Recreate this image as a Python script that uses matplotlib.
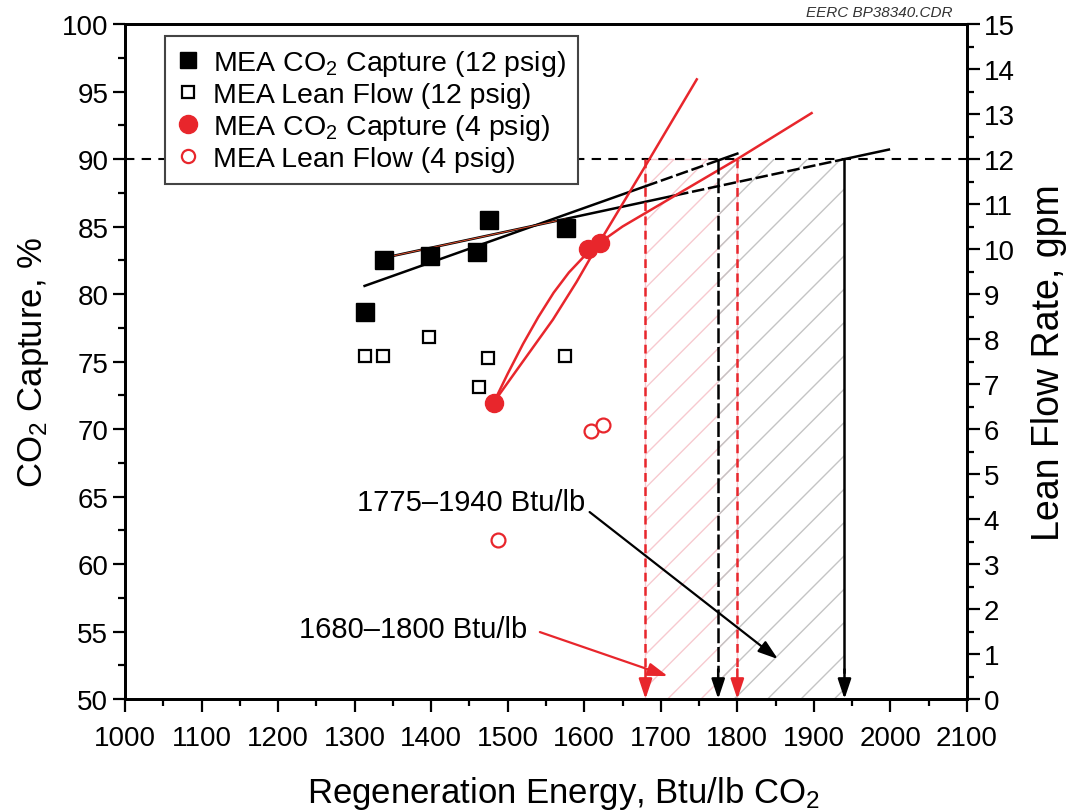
import matplotlib
matplotlib.use('Agg')
import matplotlib.pyplot as plt
from matplotlib.lines import Line2D
from matplotlib.patches import Rectangle
from matplotlib.ticker import MultipleLocator
import numpy as np

plt.rcParams['font.family'] = ['Liberation Sans', 'DejaVu Sans']
plt.rcParams['mathtext.fontset'] = 'custom'
plt.rcParams['mathtext.rm'] = 'Liberation Sans'
plt.rcParams['mathtext.default'] = 'regular'
plt.rcParams['hatch.linewidth'] = 1.0

# values
cap12_energy = [1313, 1338, 1398, 1460, 1476, 1576]
cap12_pct = [78.7, 82.5, 82.8, 83.1, 85.5, 84.9]
flow12_energy = [1313, 1337, 1397, 1462, 1474, 1575]
flow12_gpm = [7.62, 7.62, 8.04, 6.93, 7.58, 7.62]
cap4_energy = [1482, 1605, 1620]
cap4_pct = [71.9, 83.3, 83.8]
flow4_energy = [1487, 1609, 1624]
flow4_gpm = [3.53, 5.96, 6.09]

# trend lines (12 psig, straight)
fit_a_energy = [1313, 1800]
fit_a_pct = [80.6, 90.4]
fit_b_energy = [1340, 1998]
fit_b_pct = [82.7, 90.7]

# trend curves (4 psig)
curve_q_energy = [1482, 1516, 1559, 1590, 1620, 1680, 1747]
curve_q_pct = [72.0, 74.7, 78.1, 80.9, 83.85, 89.5, 95.9]
curve_p_energy = [1482, 1500, 1520, 1540, 1560, 1580, 1600, 1620, 1650, 1800, 1897]
curve_p_pct = [72.0, 74.1, 76.3, 78.3, 80.1, 81.6, 82.8, 83.8, 85.0, 90.0, 93.4]

target_pct = 90
range_4psig = [1680, 1800]
range_12psig = [1775, 1940]

RED = '#e8262c'
PINK = '#f7c9cf'
GREY = '#c4c4c4'

fig = plt.figure(figsize=(10.75, 8.12), dpi=100)
ax = fig.add_axes([0.1163, 0.1379, 0.7832, 0.8313])
ax2 = ax.twinx()

ax.set_xlim(1000, 2100)
ax.set_ylim(50, 100)
ax2.set_ylim(0, 15)

# hatched ranges
ax.add_patch(Rectangle((range_4psig[0], 50), range_4psig[1] - range_4psig[0], target_pct - 50,
                       facecolor='none', edgecolor=PINK, hatch='/', lw=1.0, zorder=1))
ax.add_patch(Rectangle((range_12psig[0], 50), range_12psig[1] - range_12psig[0], target_pct - 50,
                       facecolor='none', edgecolor=GREY, hatch='/', lw=0, zorder=1))

ax.axhline(target_pct, color='black', lw=1.5, ls='--', dashes=(4.5, 3.5), zorder=2)


def seg(xs, ys, x0, x1):
    xx = np.array([x0, x1])
    return xx, np.interp(xx, xs, ys)


# straight fits: solid outside the hatched ranges, broken inside
xx, yy = seg(fit_a_energy, fit_a_pct, 1313, 1680)
ax.plot(xx, yy, color='black', lw=1.8, zorder=3)
xx, yy = seg(fit_a_energy, fit_a_pct, 1680, 1775)
ax.plot(xx, yy, color='black', lw=1.8, ls='--', dashes=(5, 1.5), zorder=3)
xx, yy = seg(fit_a_energy, fit_a_pct, 1775, 1800)
ax.plot(xx, yy, color='black', lw=1.8, zorder=3)

xx, yy = seg(fit_b_energy, fit_b_pct, 1340, 1720)
ax.plot(xx, yy, color='black', lw=1.8, zorder=3)
xx, yy = seg(fit_b_energy, fit_b_pct, 1720, 1940)
ax.plot(xx, yy, color='black', lw=1.8, ls='--', dashes=(5, 1.5), zorder=3)
xx, yy = seg(fit_b_energy, fit_b_pct, 1940, 1998)
ax.plot(xx, yy, color='black', lw=1.8, zorder=3)
xx, yy = seg(fit_b_energy, fit_b_pct, 1340, 1575)
ax.plot(xx, yy, color='#e05030', lw=0.7, zorder=3)

ax.plot(curve_q_energy, curve_q_pct, color=RED, lw=1.8, zorder=3)
ax.plot(curve_p_energy, curve_p_pct, color=RED, lw=1.8, zorder=3)

# vertical drop lines with arrow heads
head = '-|>,head_length=0.6,head_width=0.2'
for x in range_4psig:
    ax.plot([x, x], [target_pct, 52.0], color=RED, lw=1.8, ls='--', dashes=(3.5, 2.2), zorder=3)
    ax.annotate('', xy=(x, 50), xytext=(x, 52.2),
                arrowprops=dict(arrowstyle=head, color=RED, lw=1.8, mutation_scale=20,
                                shrinkA=0, shrinkB=0), zorder=4)
ax.plot([range_12psig[0]] * 2, [target_pct, 52.0], color='black', lw=1.8, ls='--',
        dashes=(6, 1.5), zorder=3)
ax.plot([range_12psig[1]] * 2, [target_pct, 52.0], color='black', lw=1.8, zorder=3)
for x in range_12psig:
    ax.annotate('', xy=(x, 50), xytext=(x, 52.2),
                arrowprops=dict(arrowstyle=head, color='black', lw=1.8, mutation_scale=20,
                                shrinkA=0, shrinkB=0), zorder=4)

# range callouts
ax.text(1452, 64.6, '1775\u20131940 Btu/lb', ha='center', va='center', fontsize=21)
ax.annotate('', xy=(1853, 52.96), xytext=(1607, 63.85),
            arrowprops=dict(arrowstyle=head, color='black', lw=1.6, mutation_scale=20,
                            shrinkA=0, shrinkB=0))
ax.text(1377, 55.2, '1680\u20131800 Btu/lb', ha='center', va='center', fontsize=21)
ax.annotate('', xy=(1709, 51.7), xytext=(1542, 54.96),
            arrowprops=dict(arrowstyle=head, color=RED, lw=1.6, mutation_scale=20,
                            shrinkA=0, shrinkB=0))

# data markers
ax.plot(cap12_energy, cap12_pct, 's', color='black', ms=12.5, zorder=5)
ax.plot(cap4_energy, cap4_pct, 'o', color=RED, ms=13, zorder=5)
ax2.plot(flow12_energy, flow12_gpm, 's', mfc='white', mec='black', mew=1.6, ms=8.5, zorder=5)
ax2.plot(flow4_energy, flow4_gpm, 'o', mfc='white', mec=RED, mew=1.6, ms=10, zorder=5)

# axes styling
ax.xaxis.set_major_locator(MultipleLocator(100))
ax.xaxis.set_minor_locator(MultipleLocator(50))
ax.yaxis.set_major_locator(MultipleLocator(5))
ax.yaxis.set_minor_locator(MultipleLocator(2.5))
ax2.yaxis.set_major_locator(MultipleLocator(1))
ax2.yaxis.set_minor_locator(MultipleLocator(0.5))
for a in (ax, ax2):
    a.tick_params(which='major', direction='out', length=9, width=1.6, labelsize=20, pad=3)
    a.tick_params(which='minor', direction='out', length=5, width=1.6)
    for s in a.spines.values():
        s.set_linewidth(2)
ax.tick_params(axis='x', pad=10)

ax.set_xlabel('Regeneration Energy, Btu/lb CO$_2$', fontsize=25, labelpad=16)
ax.xaxis.label.set_x(0.521)
ax.set_ylabel('CO$_2$ Capture, %', fontsize=25, labelpad=8)
ax2.set_ylabel('Lean Flow Rate, gpm', fontsize=27, labelpad=12)

handles = [
    Line2D([], [], ls='none', marker='s', color='black', ms=12),
    Line2D([], [], ls='none', marker='s', mfc='white', mec='black', mew=1.6, ms=8.5),
    Line2D([], [], ls='none', marker='o', color=RED, ms=13),
    Line2D([], [], ls='none', marker='o', mfc='white', mec=RED, mew=1.6, ms=9.5),
]
labels = ['MEA CO$_2$ Capture (12 psig)', 'MEA Lean Flow (12 psig)',
          'MEA CO$_2$ Capture (4 psig)', 'MEA Lean Flow (4 psig)']
leg = ax2.legend(handles, labels, loc='upper left', bbox_to_anchor=(0.0475, 0.982),
                 borderaxespad=0, fontsize=20.5, fancybox=False, framealpha=1,
                 edgecolor='#444444', handlelength=0.8, handletextpad=0.5,
                 labelspacing=0.15, borderpad=0.4)
leg.get_frame().set_linewidth(1.5)

fig.text(0.886, 0.984, 'EERC BP38340.CDR', ha='right', va='center', fontsize=11,
         style='italic', color='#333333')

fig.savefig('out.png', dpi=100)
